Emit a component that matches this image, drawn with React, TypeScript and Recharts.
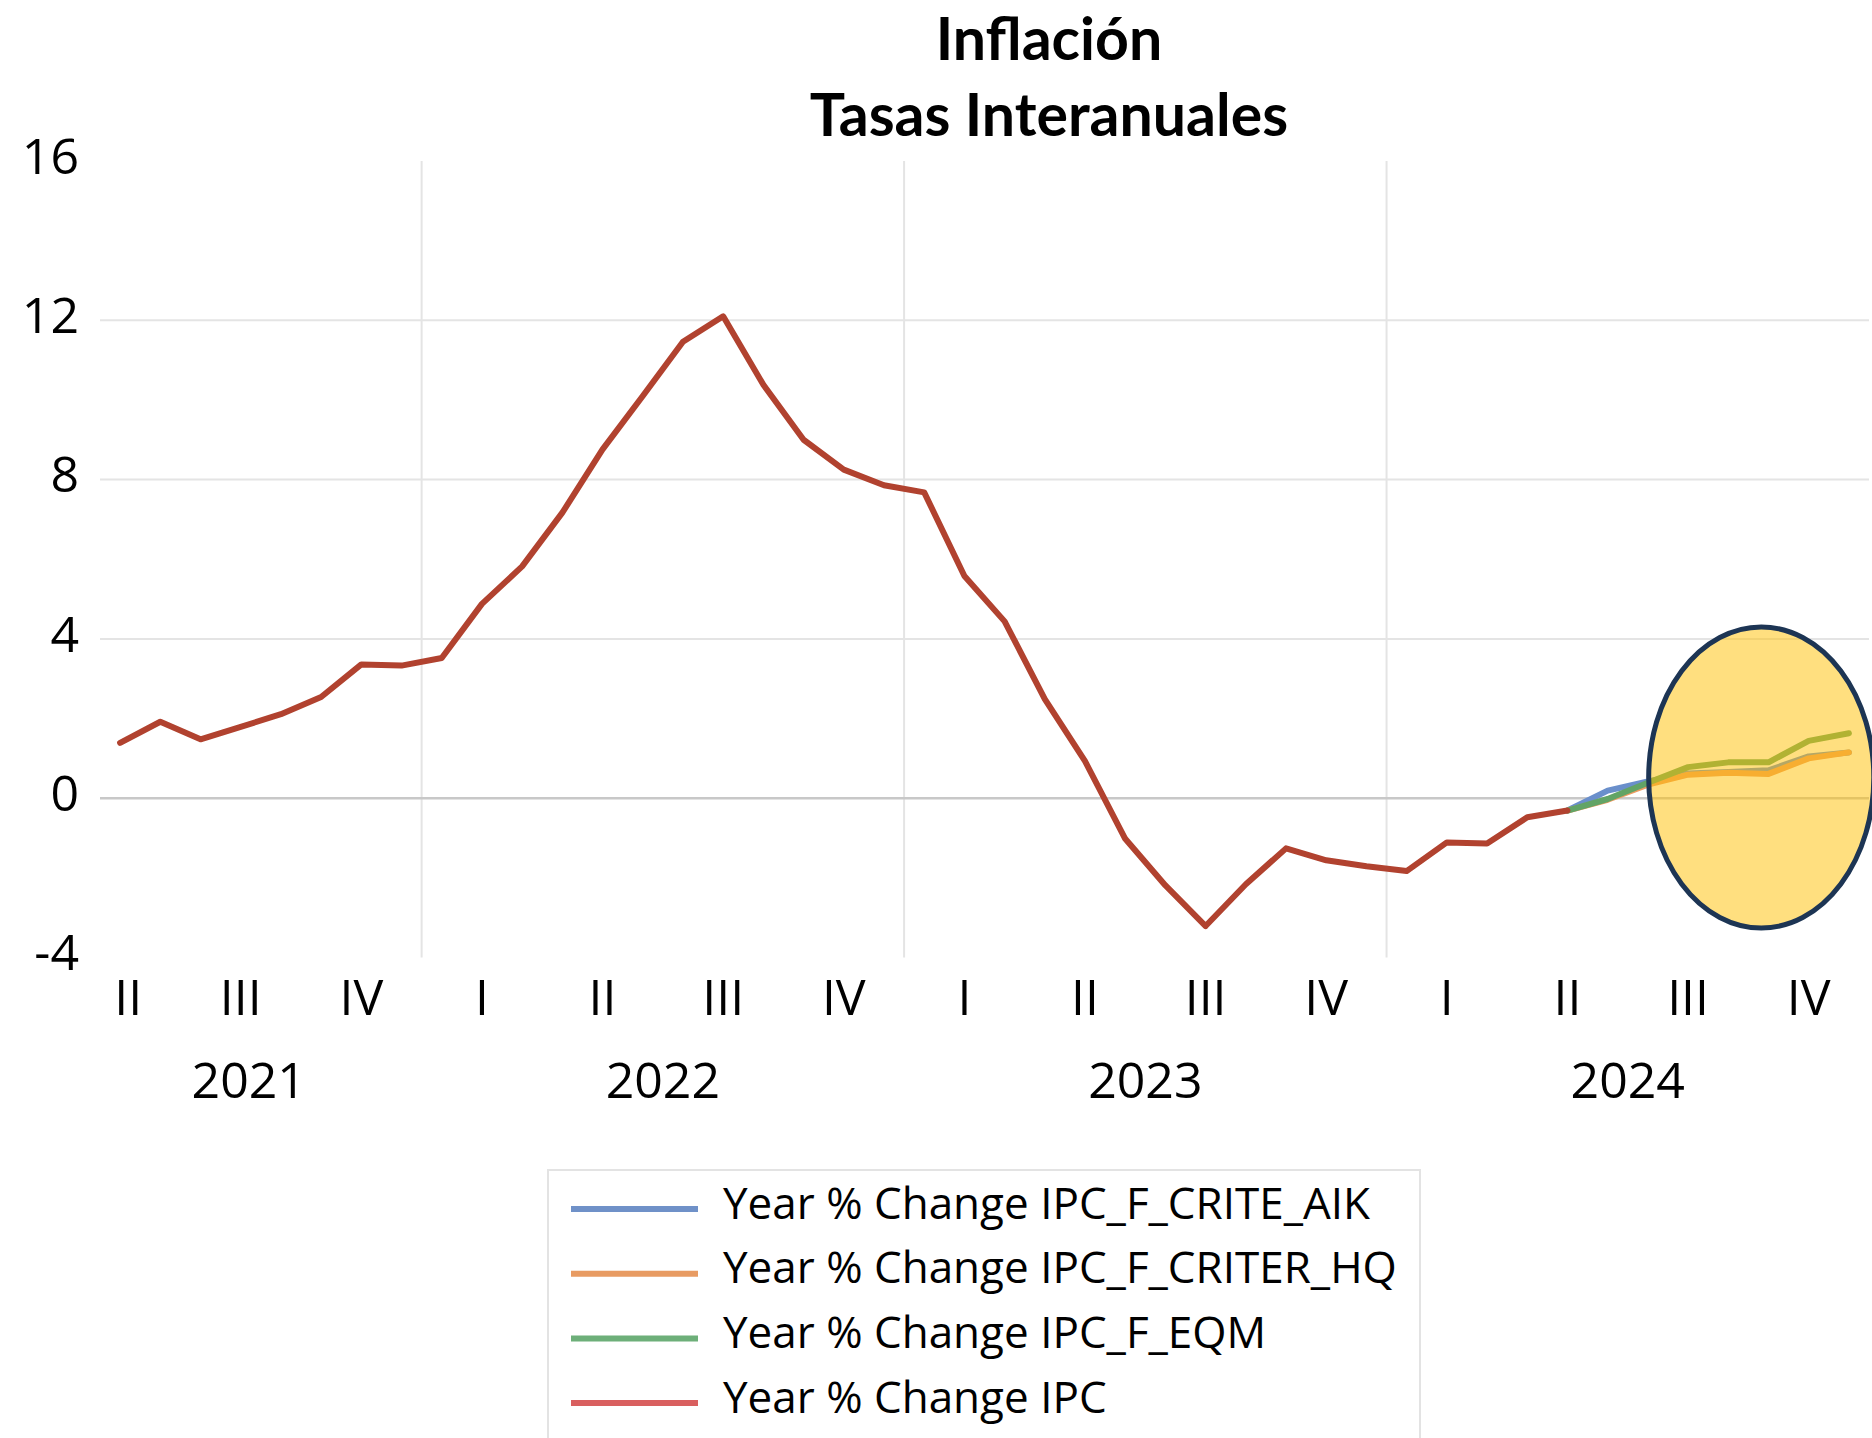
import React from "react";
import {
  LineChart,
  Line,
  XAxis,
  YAxis,
  ReferenceLine,
  ReferenceArea,
  Customized,
} from "recharts";

// ---------- DATA ----------
const months = [
  "2021-05", "2021-06", "2021-07", "2021-08", "2021-09", "2021-10", "2021-11", "2021-12",
  "2022-01", "2022-02", "2022-03", "2022-04", "2022-05", "2022-06", "2022-07", "2022-08",
  "2022-09", "2022-10", "2022-11", "2022-12",
  "2023-01", "2023-02", "2023-03", "2023-04", "2023-05", "2023-06", "2023-07", "2023-08",
  "2023-09", "2023-10", "2023-11", "2023-12",
  "2024-01", "2024-02", "2024-03", "2024-04", "2024-05", "2024-06", "2024-07", "2024-08",
  "2024-09", "2024-10", "2024-11", "2024-12",
];

// Year % Change IPC (observed, May 2021 .. May 2024)
const ipc = [
  1.39, 1.92, 1.48, 1.79, 2.11, 2.54, 3.36, 3.33,
  3.52, 4.88, 5.82, 7.17, 8.76, 10.1, 11.46, 12.1,
  10.38, 9.0, 8.25, 7.86,
  7.68, 5.58, 4.44, 2.49, 0.93, -1.02, -2.19, -3.21,
  -2.16, -1.26, -1.56, -1.71,
  -1.83, -1.11, -1.14, -0.48, -0.31,
];

// Forecasts: May 2024 .. Dec 2024
const forecastStart = "2024-05";
const aik = [-0.31, 0.19, 0.42, 0.62, 0.66, 0.7, 1.05, 1.15];
const hq = [-0.31, -0.04, 0.34, 0.59, 0.64, 0.61, 1.0, 1.15];
const eqm = [-0.31, -0.02, 0.39, 0.78, 0.9, 0.9, 1.44, 1.63];

const seriesNames = [
  "Year % Change IPC_F_CRITE_AIK",
  "Year % Change IPC_F_CRITER_HQ",
  "Year % Change IPC_F_EQM",
  "Year % Change IPC",
];
const seriesKeys = ["aik", "hq", "eqm", "ipc"];
const lineColors = ["#6A8FCB", "#EE9C62", "#62A466", "#B1422F"];
const legendColors = ["#6F91C8", "#E89B62", "#6DAF79", "#D95F5F"];

const yTicks = [-4, 0, 4, 8, 12, 16];
const quarterTicks = [0.2, 3, 6, 9, 12, 15, 18, 21, 24, 27, 30, 33, 36, 39, 42];
const quarterLabels = ["II", "III", "IV", "I", "II", "III", "IV", "I", "II", "III", "IV", "I", "II", "III", "IV"];
const yearTicks = [3.2, 13.5, 25.5, 37.5];
const yearLabels = ["2021", "2022", "2023", "2024"];
const yearBoundaries = [7.5, 19.5, 31.5];
const horizontalGrid = [4, 8, 12];

// highlighted forecast region (month index range, value range)
const highlightX = [38.02, 43.62];
const highlightY = [-3.26, 4.3];

const titleLines = ["Inflación", "Tasas Interanuales"];

// ---------- BUILD TABLE ----------
const fStart = months.indexOf(forecastStart);
const rows = months.map((m, i) => {
  const r: any = { idx: i, month: m };
  r.ipc = i < ipc.length ? ipc[i] : null;
  const k = i - fStart;
  r.aik = k >= 0 && k < aik.length ? aik[k] : null;
  r.hq = k >= 0 && k < hq.length ? hq[k] : null;
  r.eqm = k >= 0 && k < eqm.length ? eqm[k] : null;
  return r;
});

const FONT = "'Open Sans', sans-serif";
const TITLE_FONT = "Lato, 'Open Sans', sans-serif";

const QuarterTick = (props: any) => {
  const { x, y, payload } = props;
  const i = quarterTicks.indexOf(payload.value);
  return (
    <text x={x} y={y + 39.5} dy="0.357em" textAnchor="middle" fontFamily={FONT} fontSize={50} fill="#000">
      {quarterLabels[i]}
    </text>
  );
};

const YearTick = (props: any) => {
  const { x, y, payload } = props;
  const i = yearTicks.indexOf(payload.value);
  return (
    <text x={x} y={y + 43} dy="0.357em" textAnchor="middle" fontFamily={FONT} fontSize={50} fill="#000">
      {yearLabels[i]}
    </text>
  );
};

const YTick = (props: any) => {
  const { x, y, payload } = props;
  return (
    <text x={x - 21} y={y - 5} dy="0.357em" textAnchor="end" fontFamily={FONT} fontSize={50} fill="#000">
      {payload.value}
    </text>
  );
};

const EllipseShape = (props: any) => {
  const { x, y, width, height } = props;
  return (
    <ellipse
      cx={x + width / 2}
      cy={y + height / 2}
      rx={Math.abs(width) / 2}
      ry={Math.abs(height) / 2}
      fill="#FFC000"
      fillOpacity={0.5}
      stroke="#1D3554"
      strokeWidth={5}
    />
  );
};

const Title = () => (
  <g>
    <text x={1049} y={60} textAnchor="middle" fontFamily={TITLE_FONT} fontWeight={700} fontSize={59} fill="#000">
      {titleLines[0]}
    </text>
    <text x={1049} y={136} textAnchor="middle" fontFamily={TITLE_FONT} fontWeight={700} fontSize={59} fill="#000">
      {titleLines[1]}
    </text>
  </g>
);

const LegendBox = () => (
  <svg
    width={1872}
    height={1438}
    style={{ position: "absolute", left: 0, top: 0, pointerEvents: "none" }}
  >
    <rect x={548} y={1170} width={872} height={300} fill="none" stroke="#E3E3E3" strokeWidth={2} />
    {seriesNames.map((name, i) => {
      const cy = 1209 + i * 64.7;
      return (
        <g key={name}>
          <line x1={571} x2={698} y1={cy} y2={cy} stroke={legendColors[i]} strokeWidth={6} />
          <text x={723} y={cy - 6} dy="0.357em" fontFamily={FONT} fontSize={44} fill="#000">
            {name}
          </text>
        </g>
      );
    })}
  </svg>
);

export default function App() {
  return (
    <div style={{ position: "absolute", left: 0, top: 0, width: 1872, height: 1438, background: "#fff", overflow: "hidden" }}>
      <LineChart
        width={1872}
        height={1438}
        data={rows}
        margin={{ top: 161, right: 3, left: 0, bottom: 300.5 }}
      >
        <XAxis
          xAxisId="q"
          dataKey="idx"
          type="number"
          domain={[-0.5, 43.5]}
          ticks={quarterTicks}
          interval={0}
          tick={<QuarterTick />}
          tickLine={false}
          axisLine={false}
          tickSize={0}
          tickMargin={0}
          height={80}
          allowDataOverflow
        />
        <XAxis
          xAxisId="y"
          dataKey="idx"
          type="number"
          domain={[-0.5, 43.5]}
          ticks={yearTicks}
          interval={0}
          tick={<YearTick />}
          tickLine={false}
          axisLine={false}
          tickSize={0}
          tickMargin={0}
          height={100}
          allowDataOverflow
        />
        <YAxis
          domain={[-4, 16]}
          ticks={yTicks}
          interval={0}
          tick={<YTick />}
          tickLine={false}
          axisLine={false}
          tickSize={0}
          tickMargin={0}
          width={100}
          allowDataOverflow
        />
        {horizontalGrid.map((v) => (
          <ReferenceLine key={"h" + v} xAxisId="q" y={v} stroke="#E4E4E4" strokeWidth={2} />
        ))}
        {yearBoundaries.map((v) => (
          <ReferenceLine key={"v" + v} xAxisId="q" x={v} stroke="#E4E4E4" strokeWidth={2} />
        ))}
        <ReferenceLine xAxisId="q" y={0} stroke="#C8C8C8" strokeWidth={2.5} />
        {seriesKeys.map((k, i) => (
          <Line
            key={k}
            xAxisId="q"
            type="linear"
            dataKey={k}
            name={seriesNames[i]}
            stroke={lineColors[i]}
            strokeWidth={6}
            strokeLinejoin="round"
            strokeLinecap="round"
            dot={false}
            activeDot={false}
            isAnimationActive={false}
            connectNulls={false}
          />
        ))}
        <ReferenceArea
          xAxisId="q"
          x1={highlightX[0]}
          x2={highlightX[1]}
          y1={highlightY[0]}
          y2={highlightY[1]}
          ifOverflow="visible"
          shape={<EllipseShape />}
          zIndex={1500}
        />
        <Customized component={Title} />
      </LineChart>
      <LegendBox />
    </div>
  );
}
